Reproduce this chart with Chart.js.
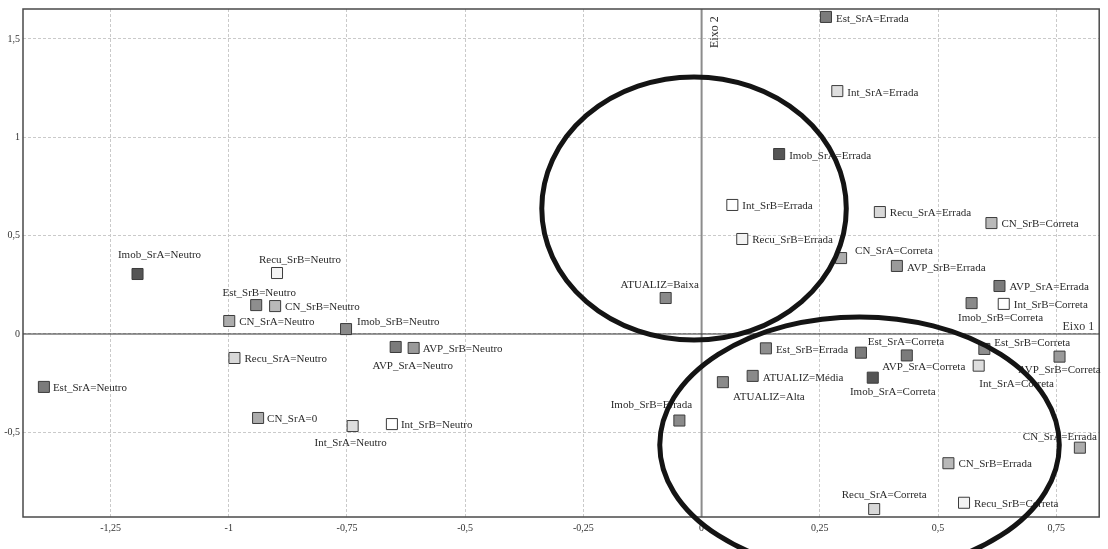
<!DOCTYPE html>
<html>
<head>
<meta charset="utf-8">
<script src="https://cdn.jsdelivr.net/npm/chart.js@4.4.1/dist/chart.umd.min.js"></script>
<style>
  html, body { margin: 0; padding: 0; background: #fff; }
  canvas { display: block; }
</style>
</head>
<body>
<canvas id="mapa" width="1108" height="549"></canvas>
<script>
// categories and their coordinates on the two axes
const categorias = [
  'Imob_SrA=Neutro', 'Recu_SrB=Neutro', 'Est_SrB=Neutro', 'CN_SrB=Neutro', 'CN_SrA=Neutro',
  'Imob_SrB=Neutro', 'Recu_SrA=Neutro', 'Est_SrA=Neutro', 'CN_SrA=0', 'Int_SrA=Neutro',
  'ATUALIZ=Baixa', 'AVP_SrA=Neutro', 'AVP_SrB=Neutro', 'Int_SrB=Neutro', 'Imob_SrB=Errada',
  'ATUALIZ=Alta', 'Est_SrA=Errada', 'Int_SrA=Errada', 'Imob_SrA=Errada', 'Int_SrB=Errada',
  'Recu_SrA=Errada', 'CN_SrB=Correta', 'Recu_SrB=Errada', 'CN_SrA=Correta', 'AVP_SrB=Errada',
  'AVP_SrA=Errada', 'Imob_SrB=Correta', 'Int_SrB=Correta', 'Est_SrB=Errada', 'Est_SrA=Correta',
  'AVP_SrA=Correta', 'Est_SrB=Correta', 'AVP_SrB=Correta', 'Int_SrA=Correta', 'ATUALIZ=Média',
  'Imob_SrA=Correta', 'CN_SrA=Errada', 'CN_SrB=Errada', 'Recu_SrA=Correta', 'Recu_SrB=Correta'
];
const eixo1 = [
  -1.193, -0.898, -0.942, -0.902, -0.999,
  -0.752, -0.988, -1.391, -0.938, -0.738,
  -0.076, -0.647, -0.609, -0.655, -0.047,
   0.045,  0.263,  0.287,  0.164,  0.065,
   0.377,  0.613,  0.086,  0.295,  0.413,
   0.630,  0.571,  0.639,  0.136,  0.337,
   0.434,  0.598,  0.757,  0.586,  0.108,
   0.362,  0.800,  0.522,  0.365,  0.555
];
const eixo2 = [
   0.305,  0.310,  0.147,  0.142,  0.066,
   0.025, -0.122, -0.269, -0.427, -0.468,
   0.183, -0.066, -0.071, -0.458, -0.440,
  -0.245,  1.612,  1.235,  0.915,  0.656,
   0.620,  0.564,  0.483,  0.386,  0.346,
   0.244,  0.157,  0.153, -0.073, -0.095,
  -0.109, -0.076, -0.115, -0.161, -0.213,
  -0.222, -0.578, -0.657, -0.890, -0.858
];
const ticksX = [-1.25, -1, -0.75, -0.5, -0.25, 0, 0.25, 0.5, 0.75];
const ticksY = [-0.5, 0, 0.5, 1, 1.5];

// grey fill per variable
const tonsVariavel = {
  'Imob_SrA': '#555555', 'Imob_SrB': '#8a8a8a',
  'Est_SrA': '#7b7b7b', 'Est_SrB': '#8e8e8e',
  'AVP_SrA': '#7b7b7b', 'AVP_SrB': '#9a9a9a',
  'CN_SrA': '#acacac', 'CN_SrB': '#b9b9b9',
  'Recu_SrA': '#d8d8d8', 'Recu_SrB': '#f3f3f3',
  'Int_SrA': '#dedede', 'Int_SrB': '#ffffff',
  'ATUALIZ': '#8a8a8a'
};

// where each label sits next to its square: [dx, dy, align]
const posRotulo = [
  [22, -19, 'c'], [23, -13, 'c'], [3, -12, 'c'], [10, 1, 'l'], [10, 1, 'l'],
  [11, -7, 'l'], [10, 1, 'l'], [9, 1, 'l'], [9, 1, 'l'], [-2, 17, 'c'],
  [-6, -13, 'c'], [17, 19, 'c'], [9, 1, 'l'], [9, 1, 'l'], [-28, -15, 'c'],
  [46, 15, 'c'], [10, 2, 'l'], [10, 2, 'l'], [10, 2, 'l'], [10, 1, 'l'],
  [10, 1, 'l'], [10, 1, 'l'], [10, 1, 'l'], [14, -7, 'l'], [10, 2, 'l'],
  [10, 1, 'l'], [29, 15, 'c'], [10, 1, 'l'], [10, 2, 'l'], [45, -11, 'c'],
  [17, 12, 'c'], [10, -6, 'l'], [0, 13, 'c'], [38, 18, 'c'], [10, 2, 'l'],
  [20, 14, 'c'], [-20, -11, 'c'], [10, 1, 'l'], [10, -14, 'c'], [10, 1, 'l']
];

// the two groups circled on the map (centre and radii in axis units)
const grupos = [
  { cx: -0.016, cy: 0.638, rx: 0.322, ry: 0.669 },
  { cx: 0.334, cy: -0.564, rx: 0.4225, ry: 0.651 }
];

const fonte = '"Liberation Serif", "Times New Roman", serif';

function fmt(v) {
  return Number(v.toFixed(2)).toString().replace('.', ',');
}

const pontos = categorias.map((c, i) => ({ x: eixo1[i], y: eixo2[i] }));
const cores = categorias.map(c => tonsVariavel[c.split('=')[0]]);

// frame, axis lines through the origin and their names
const eixosPlugin = {
  id: 'eixos',
  beforeDatasetsDraw(chart) {
    const { ctx, chartArea: a, scales } = chart;
    const x0 = scales.x.getPixelForValue(0);
    const y0 = scales.y.getPixelForValue(0);
    ctx.save();
    ctx.strokeStyle = '#8c8c8c';
    ctx.lineWidth = 2;
    ctx.beginPath();
    ctx.moveTo(x0, a.top);
    ctx.lineTo(x0, a.bottom);
    ctx.stroke();
    ctx.strokeStyle = '#333';
    ctx.lineWidth = 1.2;
    ctx.beginPath();
    ctx.moveTo(a.left, y0);
    ctx.lineTo(a.right, y0);
    ctx.stroke();
    ctx.strokeStyle = '#4a4a4a';
    ctx.lineWidth = 1.5;
    ctx.strokeRect(a.left, a.top, a.right - a.left, a.bottom - a.top);

    ctx.fillStyle = '#333';
    ctx.font = '12px ' + fonte;
    ctx.textAlign = 'right';
    ctx.textBaseline = 'alphabetic';
    ctx.fillText('Eixo 1', a.right - 5, y0 - 4);
    ctx.translate(x0 + 16, a.top + 39);
    ctx.rotate(-Math.PI / 2);
    ctx.textAlign = 'left';
    ctx.fillText('Eixo 2', 0, 0);
    ctx.restore();
  },
  afterDatasetsDraw(chart) {
    const { ctx, scales } = chart;
    const meta = chart.getDatasetMeta(0);
    ctx.save();
    ctx.font = '11px ' + fonte;
    ctx.fillStyle = '#2a2a2a';
    ctx.textBaseline = 'middle';
    meta.data.forEach((el, i) => {
      const [dx, dy, al] = posRotulo[i];
      ctx.textAlign = al === 'c' ? 'center' : 'left';
      ctx.fillText(categorias[i], el.x + dx, el.y + dy);
    });

    // circled groups go over everything
    ctx.strokeStyle = '#141414';
    ctx.lineWidth = 5;
    grupos.forEach(g => {
      const cx = scales.x.getPixelForValue(g.cx);
      const cy = scales.y.getPixelForValue(g.cy);
      const rx = scales.x.getPixelForValue(g.cx + g.rx) - cx;
      const ry = cy - scales.y.getPixelForValue(g.cy + g.ry);
      ctx.beginPath();
      ctx.ellipse(cx, cy, rx, ry, 0, 0, Math.PI * 2);
      ctx.stroke();
    });
    ctx.restore();
  }
};

new Chart(document.getElementById('mapa'), {
  type: 'scatter',
  data: {
    datasets: [{
      data: pontos,
      pointStyle: 'rect',
      pointRadius: 7.8,
      pointHoverRadius: 7.8,
      backgroundColor: cores,
      borderColor: '#3c3c3c',
      borderWidth: 1
    }]
  },
  options: {
    responsive: false,
    animation: false,
    devicePixelRatio: 1,
    layout: { padding: { top: 9, right: 5, left: 0, bottom: 0 } },
    plugins: { legend: { display: false }, tooltip: { enabled: false } },
    scales: {
      x: {
        type: 'linear',
        min: -1.4352,
        max: 0.8409,
        afterFit(scale) { scale.height = 32; },
        afterBuildTicks(scale) { scale.ticks = ticksX.map(v => ({ value: v })); },
        ticks: {
          callback: v => fmt(v),
          font: { family: fonte, size: 10 },
          color: '#333',
          padding: 5,
          maxRotation: 0
        },
        grid: { color: '#cacaca', drawTicks: false, lineWidth: 1 },
        border: { display: false, dash: [3, 2] }
      },
      y: {
        type: 'linear',
        min: -0.9304,
        max: 1.6523,
        afterFit(scale) { scale.width = 23; },
        afterBuildTicks(scale) { scale.ticks = ticksY.map(v => ({ value: v })); },
        ticks: {
          callback: v => fmt(v),
          font: { family: fonte, size: 10 },
          color: '#333',
          padding: 3
        },
        grid: { color: '#cacaca', drawTicks: false, lineWidth: 1 },
        border: { display: false, dash: [3, 2] }
      }
    }
  },
  plugins: [eixosPlugin]
});
</script>
</body>
</html>
